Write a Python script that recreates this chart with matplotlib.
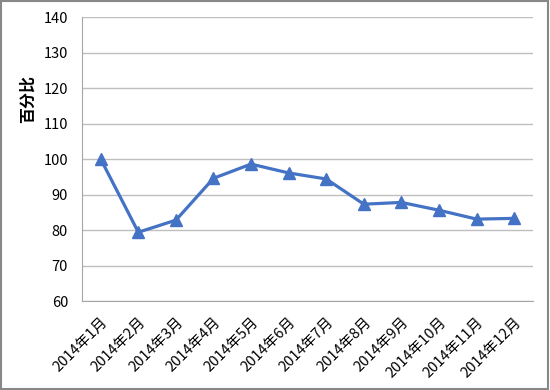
import matplotlib
matplotlib.use("Agg")
import matplotlib.pyplot as plt
from matplotlib.patches import Rectangle

plt.rcParams['font.family'] = ['Noto Sans CJK SC', 'DejaVu Sans']

months = ["2014年%d月" % m for m in range(1, 13)]
values = [100, 79.4, 82.8, 94.6, 98.6, 96.1, 94.4, 87.3, 87.8, 85.6, 83.1, 83.3]
y_ticks = [60, 70, 80, 90, 100, 110, 120, 130, 140]

fig = plt.figure(figsize=(5.5, 3.9), dpi=100)
ax = fig.add_axes([0.149, 0.228, 0.82, 0.728])

x = range(len(months))
ax.plot(x, values, color='#4472C4', linewidth=2.3, marker='^', markersize=9)

ax.set_xlim(-0.5, len(months) - 0.5)
ax.set_ylim(60, 140)
ax.set_yticks(y_ticks)
ax.set_xticks(list(x))
ax.set_xticklabels(months, rotation=45, ha='right', rotation_mode='anchor', fontsize=10.5)
ax.tick_params(axis='y', labelsize=10.5, length=0, pad=10)
ax.tick_params(axis='x', length=0, pad=10)
ax.grid(axis='y', color='#BFBFBF', linewidth=1)
ax.set_axisbelow(True)
for s in ['top', 'right']:
    ax.spines[s].set_visible(False)
for s in ['left', 'bottom']:
    ax.spines[s].set_color('#A6A6A6')
ax.set_ylabel("百分比", fontsize=11.5, fontweight='bold')
ax.yaxis.set_label_coords(-0.102, 0.711)

# chart border
fig.patches.append(Rectangle((0.002, 0.003), 0.995, 0.994, transform=fig.transFigure,
                             fill=False, edgecolor='#888888', linewidth=1.5))

fig.savefig('out.png', dpi=100)
